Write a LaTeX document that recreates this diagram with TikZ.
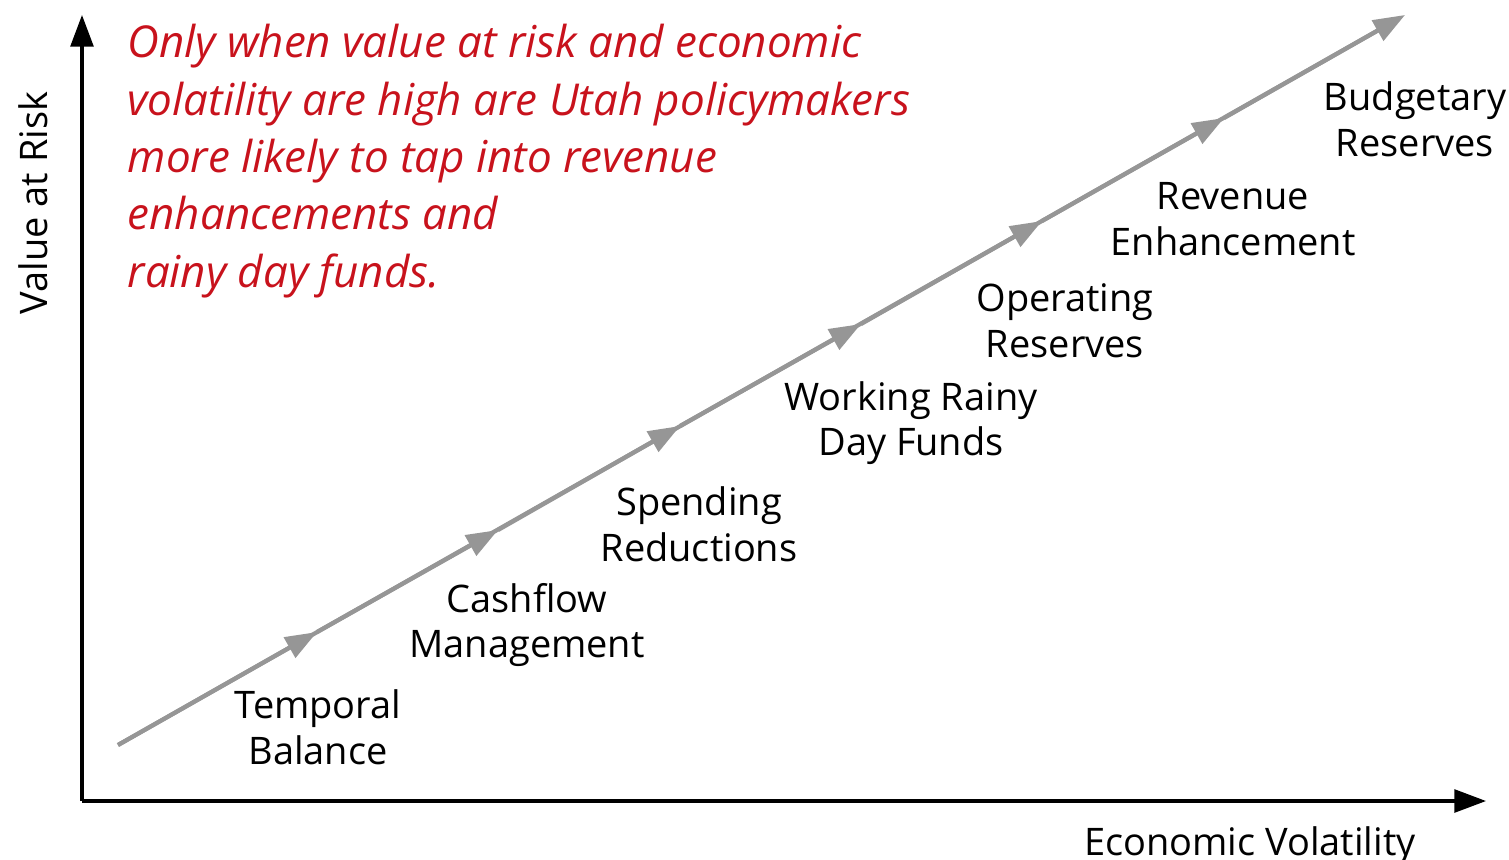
\documentclass[tikz,border=0pt]{standalone}
\usepackage{fontspec}
\setmainfont{Open Sans}
\usetikzlibrary{arrows.meta,calc}

\definecolor{chaingray}{RGB}{150,150,150}
\definecolor{notered}{RGB}{200,18,28}

\tikzset{
  axis/.style = {line width=0.9pt, -{Triangle[length=9pt,width=6.5pt]}},
  chain/.style = {chaingray, line width=1.2pt, -{Triangle[length=9pt,width=6.5pt]}},
  stage/.style = {align=center, inner sep=0pt, font=\fontsize{10.8}{13}\selectfont},
  axislabel/.style = {inner sep=0pt, font=\fontsize{10.8}{13}\selectfont},
  note/.style = {align=left, inner sep=0pt, text=notered,
    font=\fontsize{12.5}{16.3}\selectfont\itshape},
}

\begin{document}
\begin{tikzpicture}[x=0.1mm, y=-0.1mm]
  \useasboundingbox (0,0) rectangle (1509,859);

  % axes
  \coordinate (origin) at (82,801);
  \coordinate (ytip) at (82,15);
  \coordinate (xtip) at (1486,801);
  \draw[axis] (origin) -- (ytip);
  \draw[axis] (origin) -- (xtip);
  \node[axislabel, rotate=90] (ylabel) at (33,203) {Value at Risk};
  \node[axislabel, anchor=base] (xlabel) at (1250,855) {Economic Volatility};

  % chain of steps
  \coordinate (s0) at (118,745);
  \coordinate (s1) at (317,632);
  \coordinate (s2) at (498,530);
  \coordinate (s3) at (680,426);
  \coordinate (s4) at (861,324);
  \coordinate (s5) at (1042,221);
  \coordinate (s6) at (1224,118);
  \coordinate (s7) at (1405,15);
  \draw[chain, -] (s0) -- ($(s7)!0.02!(s0)$);
  \foreach \a/\b in {s0/s1, s1/s2, s2/s3, s3/s4, s4/s5, s5/s6, s6/s7}
    \draw[chain] (\a) -- (\b);

  % stage labels
  \node[stage] (temporal) at (318,727) {Temporal\\Balance};
  \node[stage] (cashflow) at (527,625) {Cashflow\\Management};
  \node[stage] (spending) at (699,524) {Spending\\Reductions};
  \node[stage] (working) at (911,423) {Working Rainy\\Day Funds};
  \node[stage] (operating) at (1065,321) {Operating\\Reserves};
  \node[stage] (revenue) at (1233,219) {Revenue\\Enhancement};
  \node[stage] (budgetary) at (1415,119) {Budgetary\\Reserves};

  % note
  \node[note, anchor=base west] (note) at (127,287)
    {Only when value at risk and economic\\
     volatility are high are Utah policymakers\\
     more likely to tap into revenue\\
     enhancements and\\
     rainy day funds.};
\end{tikzpicture}
\end{document}
